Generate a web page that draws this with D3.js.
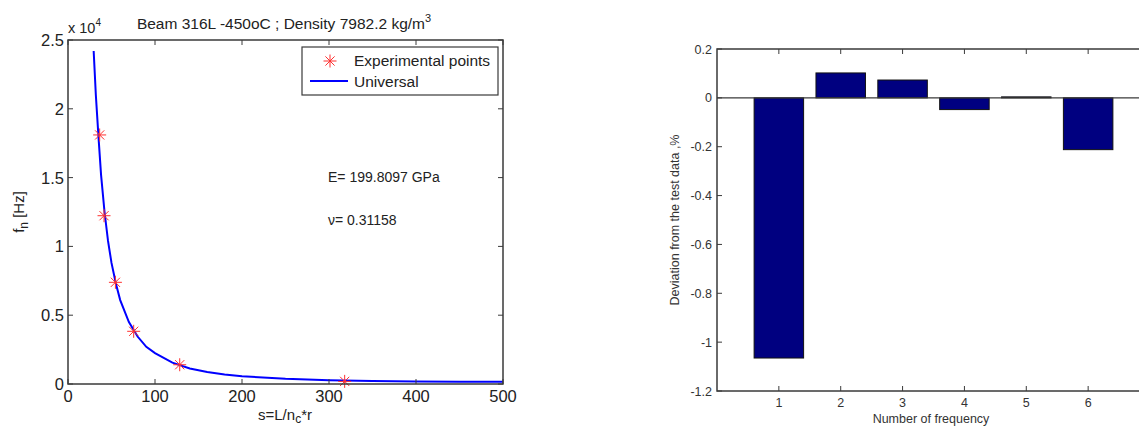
<!DOCTYPE html>
<html>
<head>
<meta charset="utf-8">
<script src="https://cdn.jsdelivr.net/npm/d3@7"></script>
<style>
  body { margin: 0; background: #fff; }
  svg { display: block; font-family: "Liberation Sans", Arial, sans-serif; }
</style>
</head>
<body>
<script>
// experimental points (s, f in Hz)
var expS = [36.4, 41.4, 54.5, 75.5, 128.4, 318];
var expF = [18100, 12230, 7390, 3830, 1400, 190];

// fitted "Universal" curve
var curveS = [29.5, 32, 35, 38, 42, 46, 50, 55, 60, 70, 80, 90, 100, 120, 140, 160, 180, 200, 250, 300, 350, 400, 450, 500];
var curveF = [24200, 21000, 18000, 15200, 12500, 10400, 8800, 7300, 6100, 4500, 3450, 2700, 2250, 1550, 1130, 870, 690, 570, 380, 280, 220, 190, 170, 160];

var leftXTicks = [0, 100, 200, 300, 400, 500];
var leftYTicks = [0, 5000, 10000, 15000, 20000, 25000];

// deviation bars
var freqNo = [1, 2, 3, 4, 5, 6];
var deviation = [-1.065, 0.102, 0.073, -0.048, 0.004, -0.212];
var rightYTicks = [0.2, 0, -0.2, -0.4, -0.6, -0.8, -1, -1.2];

var svg = d3.select("body").append("svg")
  .attr("width", 1139).attr("height", 428);

var axisCol = "#3a3a3a";
var tickLen = 5;

// ---------- left chart ----------
var L = {left: 68, right: 503, top: 40, bottom: 384};
var xL = d3.scaleLinear().domain([0, 500]).range([L.left, L.right]);
var yL = d3.scaleLinear().domain([0, 25000]).range([L.bottom, L.top]);

var gL = svg.append("g");

// curve
var line = d3.line()
  .x(function(d, i) { return xL(curveS[i]); })
  .y(function(d) { return yL(d); });
gL.append("path")
  .datum(curveF)
  .attr("d", line)
  .attr("fill", "none")
  .attr("stroke", "#0000ff")
  .attr("stroke-width", 2);

// asterisk marker like matlab '*'
function starPath(cx, cy, r) {
  var p = d3.path();
  var d = r * 0.707;
  p.moveTo(cx - r, cy); p.lineTo(cx + r, cy);
  p.moveTo(cx, cy - r); p.lineTo(cx, cy + r);
  p.moveTo(cx - d, cy - d); p.lineTo(cx + d, cy + d);
  p.moveTo(cx - d, cy + d); p.lineTo(cx + d, cy - d);
  return p.toString();
}
gL.selectAll(".pt")
  .data(expF)
  .enter().append("path")
  .attr("class", "pt")
  .attr("d", function(d, i) { return starPath(xL(expS[i]), yL(d), 6.5); })
  .attr("stroke", "#ff3030")
  .attr("stroke-width", 1)
  .attr("fill", "none");

// box
gL.append("rect")
  .attr("x", L.left).attr("y", L.top)
  .attr("width", L.right - L.left).attr("height", L.bottom - L.top)
  .attr("fill", "none").attr("stroke", axisCol).attr("stroke-width", 1.5);

// ticks (inward, all sides)
leftXTicks.forEach(function(t) {
  gL.append("line").attr("x1", xL(t)).attr("x2", xL(t)).attr("y1", L.bottom).attr("y2", L.bottom - tickLen).attr("stroke", axisCol);
  gL.append("line").attr("x1", xL(t)).attr("x2", xL(t)).attr("y1", L.top).attr("y2", L.top + tickLen).attr("stroke", axisCol);
  gL.append("text").attr("x", xL(t)).attr("y", 402)
    .attr("text-anchor", "middle").attr("font-size", 16.5).attr("fill", "#222")
    .text(t);
});
leftYTicks.forEach(function(t) {
  gL.append("line").attr("x1", L.left).attr("x2", L.left + tickLen).attr("y1", yL(t)).attr("y2", yL(t)).attr("stroke", axisCol);
  gL.append("line").attr("x1", L.right).attr("x2", L.right - tickLen).attr("y1", yL(t)).attr("y2", yL(t)).attr("stroke", axisCol);
  gL.append("text").attr("x", 64).attr("y", yL(t) + 6)
    .attr("text-anchor", "end").attr("font-size", 16.5).attr("fill", "#222")
    .text(t / 10000);
});

// x 10^4
var mult = gL.append("text").attr("x", 68).attr("y", 33).attr("font-size", 14.5).attr("fill", "#222");
mult.append("tspan").text("x 10");
mult.append("tspan").attr("dy", -7).attr("font-size", 10).text("4");

// title
var title = gL.append("text").attr("x", 284).attr("y", 29).attr("text-anchor", "middle")
  .attr("font-size", 15.5).attr("fill", "#222");
title.append("tspan").text("Beam 316L -450oC ; Density 7982.2 kg/m");
title.append("tspan").attr("dy", -7).attr("font-size", 11).text("3");

// y label
var yLab = gL.append("text").attr("transform", "translate(24,212) rotate(-90)")
  .attr("text-anchor", "middle").attr("font-size", 15).attr("fill", "#222");
yLab.append("tspan").text("f");
yLab.append("tspan").attr("dy", 4).attr("font-size", 12).text("n");
yLab.append("tspan").attr("dy", -4).text(" [Hz]");

// x label
var xLab = gL.append("text").attr("x", 285).attr("y", 420)
  .attr("text-anchor", "middle").attr("font-size", 15).attr("fill", "#222");
xLab.append("tspan").text("s=L/n");
xLab.append("tspan").attr("dy", 3).attr("font-size", 12).text("c");
xLab.append("tspan").attr("dy", -3).text("*r");

// annotations
gL.append("text").attr("x", 328).attr("y", 182).attr("font-size", 14).attr("fill", "#222").text("E= 199.8097 GPa");
gL.append("text").attr("x", 328).attr("y", 225).attr("font-size", 14).attr("fill", "#222").text("\u03bd= 0.31158");

// legend
gL.append("rect").attr("x", 302).attr("y", 47).attr("width", 196).attr("height", 48)
  .attr("fill", "#fff").attr("stroke", axisCol).attr("stroke-width", 1.2);
gL.append("path").attr("d", starPath(330, 61, 6.5)).attr("stroke", "#ff3030").attr("stroke-width", 1).attr("fill", "none");
gL.append("text").attr("x", 354).attr("y", 66).attr("font-size", 15.5).attr("fill", "#222").text("Experimental points");
gL.append("line").attr("x1", 310).attr("x2", 348).attr("y1", 81).attr("y2", 81).attr("stroke", "#0000ff").attr("stroke-width", 2);
gL.append("text").attr("x", 354).attr("y", 87).attr("font-size", 15.5).attr("fill", "#222").text("Universal");

// ---------- right chart ----------
var R = {left: 717, right: 1150, top: 49, bottom: 391};
var xR = d3.scaleLinear().domain([0, 7]).range([R.left, R.right]);
var yR = d3.scaleLinear().domain([-1.2, 0.2]).range([R.bottom, R.top]);
var bw = (xR(1) - xR(0)) * 0.8;

var gR = svg.append("g");

gR.selectAll(".bar")
  .data(deviation)
  .enter().append("rect")
  .attr("class", "bar")
  .attr("x", function(d, i) { return xR(freqNo[i]) - bw / 2; })
  .attr("y", function(d) { return yR(Math.max(0, d)); })
  .attr("width", bw)
  .attr("height", function(d) { return Math.abs(yR(d) - yR(0)); })
  .attr("fill", "#000080")
  .attr("stroke", "#111")
  .attr("stroke-width", 1);

// zero line
gR.append("line").attr("x1", R.left).attr("x2", R.right).attr("y1", yR(0)).attr("y2", yR(0))
  .attr("stroke", axisCol).attr("stroke-width", 1.2);

gR.append("rect")
  .attr("x", R.left).attr("y", R.top)
  .attr("width", R.right - R.left).attr("height", R.bottom - R.top)
  .attr("fill", "none").attr("stroke", axisCol).attr("stroke-width", 1.5);

freqNo.forEach(function(t) {
  gR.append("line").attr("x1", xR(t)).attr("x2", xR(t)).attr("y1", R.bottom).attr("y2", R.bottom - tickLen).attr("stroke", axisCol);
  gR.append("line").attr("x1", xR(t)).attr("x2", xR(t)).attr("y1", R.top).attr("y2", R.top + tickLen).attr("stroke", axisCol);
  gR.append("text").attr("x", xR(t)).attr("y", 407)
    .attr("text-anchor", "middle").attr("font-size", 12.5).attr("fill", "#333")
    .text(t);
});
rightYTicks.forEach(function(t) {
  gR.append("line").attr("x1", R.left).attr("x2", R.left + tickLen).attr("y1", yR(t)).attr("y2", yR(t)).attr("stroke", axisCol);
  gR.append("text").attr("x", 712).attr("y", yR(t) + 4.5)
    .attr("text-anchor", "end").attr("font-size", 12.5).attr("fill", "#333")
    .text(t);
});

gR.append("text").attr("transform", "translate(679,220) rotate(-90)")
  .attr("text-anchor", "middle").attr("font-size", 12.5).attr("fill", "#333")
  .text("Deviation from the test data ,%");
gR.append("text").attr("x", 931).attr("y", 423)
  .attr("text-anchor", "middle").attr("font-size", 12.5).attr("fill", "#333")
  .text("Number of frequency");
</script>
</body>
</html>
